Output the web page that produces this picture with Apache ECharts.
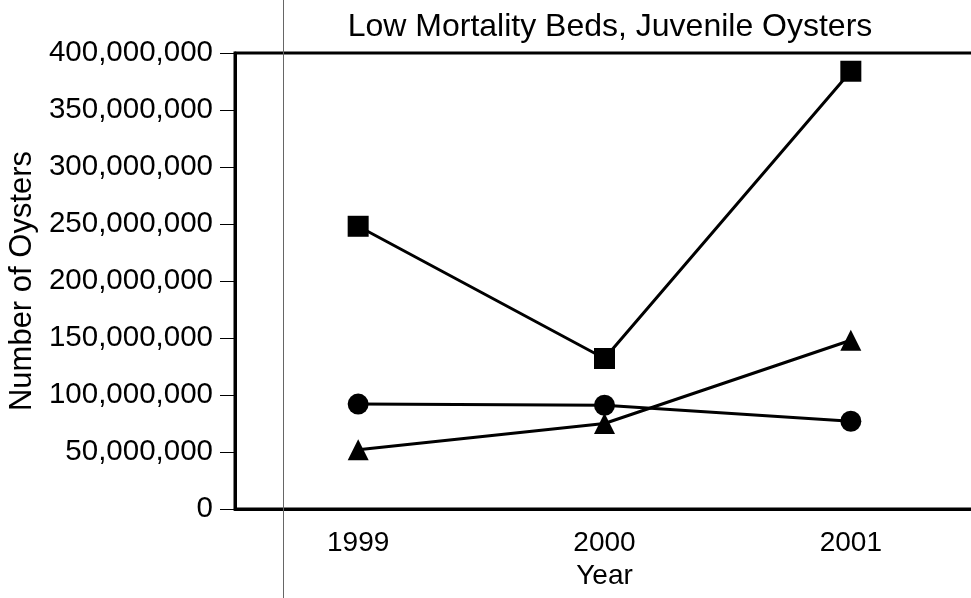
<!DOCTYPE html>
<html>
<head>
<meta charset="utf-8">
<script src="https://cdn.jsdelivr.net/npm/echarts@6/dist/echarts.min.js"></script>
<style>
html,body{margin:0;padding:0;background:#fff}
#main{width:971px;height:598px}
</style>
</head>
<body>
<div id="main"></div>
<script>
var years = ['1999', '2000', '2001']
var squares = [248000000, 132000000, 384000000]
var circles = [92000000, 91000000, 77000000]
var triangles = [52000000, 75000000, 148000000]

var font = '"Liberation Sans", Arial, sans-serif'
function fmt(v) {
    return String(v).replace(/\B(?=(\d{3})+(?!\d))/g, ',')
}

var chart = echarts.init(document.getElementById('main'))

function line(name, data, symbol) {
    return {
        name: name,
        type: 'line',
        data: data,
        symbol: symbol,
        symbolSize: 21,
        lineStyle: { color: '#000', width: 3 },
        itemStyle: { color: '#000' },
        animation: false
    }
}

chart.setOption({
    backgroundColor: '#fff',
    title: {
        text: 'Low Mortality Beds, Juvenile Oysters',
        left: 605,
        textAlign: 'center',
        top: 6,
        textStyle: { fontFamily: font, fontSize: 32, fontWeight: 'normal', color: '#000' }
    },
    grid: {
        left: 235, top: 53, right: -3, bottom: 89,
        outerBoundsMode: 'none',
        containLabel: false,
        show: true, borderColor: '#000', borderWidth: 3
    },
    xAxis: {
        type: 'category',
        data: years,
        name: 'Year',
        nameLocation: 'middle',
        nameGap: 50,
        nameTextStyle: { fontFamily: font, fontSize: 28, color: '#000' },
        axisLine: { lineStyle: { color: '#000', width: 3 } },
        axisTick: { length: 12, lineStyle: { color: '#000', width: 1.5 } },
        axisLabel: { fontFamily: font, fontSize: 28, color: '#000', margin: 20 }
    },
    yAxis: {
        type: 'value',
        min: 0, max: 400000000, interval: 50000000,
        name: 'Number of Oysters',
        nameLocation: 'middle',
        nameGap: 197,
        nameTextStyle: { fontFamily: font, fontSize: 31, color: '#000' },
        splitLine: { show: false },
        axisLine: { show: true, lineStyle: { color: '#000', width: 3 } },
        axisTick: { show: true, length: 15, lineStyle: { color: '#000', width: 1 } },
        axisLabel: { fontFamily: font, fontSize: 29.5, color: '#000', margin: 22, formatter: fmt }
    },
    graphic: [{
        type: 'line',
        shape: { x1: 283.5, y1: 0, x2: 283.5, y2: 598 },
        style: { stroke: '#666', lineWidth: 1 },
        z: 100
    }],
    series: [
        line('Square', squares, 'rect'),
        line('Circle', circles, 'circle'),
        line('Triangle', triangles, 'triangle')
    ]
})
</script>
</body>
</html>
